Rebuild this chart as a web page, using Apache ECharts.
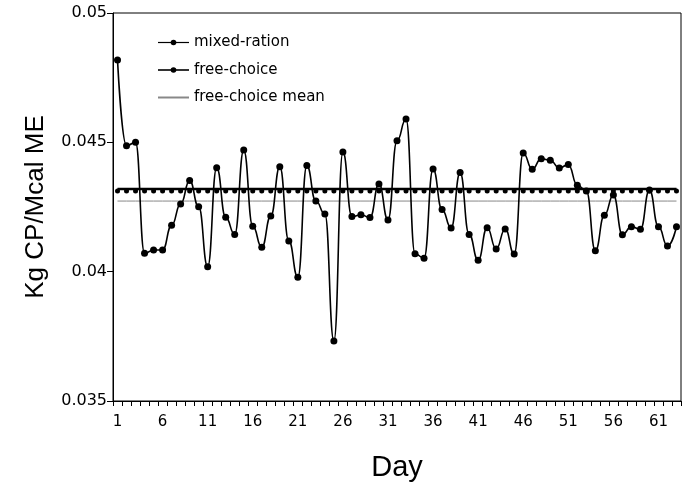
<!DOCTYPE html>
<html>
<head>
<meta charset="utf-8">
<script src="https://cdn.jsdelivr.net/npm/echarts@6/dist/echarts.min.js"></script>
<style>
html,body{margin:0;padding:0;background:#fff;}
#chart{width:685px;height:489px;}
</style>
</head>
<body>
<div id="chart"></div>
<script>
const days = [];
for (let d = 1; d <= 63; d++) days.push(String(d));

const freeChoice = [
  0.04818, 0.04487, 0.04500, 0.04071, 0.04084, 0.04084, 0.04179, 0.04262, 0.04352, 0.04251,
  0.04019, 0.04402, 0.04210, 0.04144, 0.04470, 0.04176, 0.04094, 0.04215, 0.04406, 0.04119,
  0.03978, 0.04410, 0.04273, 0.04223, 0.03732, 0.04463, 0.04213, 0.04220, 0.04209, 0.04339,
  0.04200, 0.04506, 0.04590, 0.04069, 0.04052, 0.04397, 0.04240, 0.04169, 0.04383, 0.04144,
  0.04044, 0.04170, 0.04088, 0.04165, 0.04068, 0.04459, 0.04396, 0.04437, 0.04431, 0.04401,
  0.04414, 0.04334, 0.04312, 0.04081, 0.04218, 0.04296, 0.04143, 0.04174, 0.04164, 0.04316,
  0.04174, 0.04099, 0.04174
];

const mixedRation = [
  0.0432, 0.0432, 0.0432, 0.0432, 0.0432, 0.0432, 0.0432, 0.0432, 0.0432, 0.0432,
  0.0432, 0.0432, 0.0432, 0.0432, 0.0432, 0.0432, 0.0432, 0.0432, 0.0432, 0.0432,
  0.0432, 0.0432, 0.0432, 0.0432, 0.0432, 0.0432, 0.0432, 0.0432, 0.0432, 0.0432,
  0.0432, 0.0432, 0.0432, 0.0432, 0.0432, 0.0432, 0.0432, 0.0432, 0.0432, 0.0432,
  0.0432, 0.0432, 0.0432, 0.0432, 0.0432, 0.0432, 0.0432, 0.0432, 0.0432, 0.0432,
  0.0432, 0.0432, 0.0432, 0.0432, 0.0432, 0.0432, 0.0432, 0.0432, 0.0432, 0.0432,
  0.0432, 0.0432, 0.0432
];

const freeChoiceMeanValue = 0.04273;
const freeChoiceMean = days.map(() => freeChoiceMeanValue);

const yTicks = [0.035, 0.04, 0.045, 0.05];

const chart = echarts.init(document.getElementById('chart'), null, {renderer: 'canvas'});
chart.setOption({
  animation: false,
  backgroundColor: '#fff',
  textStyle: {fontFamily: 'Liberation Sans, Arial, sans-serif', color: '#000'},
  grid: {left: 113, right: 4, top: 13, bottom: 88, show: true, borderColor: '#000', borderWidth: 1, backgroundColor: 'transparent'},
  legend: {
    orient: 'vertical',
    left: 157,
    top: 35,
    padding: 0,
    itemWidth: 31,
    itemHeight: 7,
    itemGap: 12.5,
    textStyle: {fontFamily: 'DejaVu Sans', fontSize: 15, color: '#000'},
    data: [
      {name: 'mixed-ration', lineStyle: {width: 1.2}},
      {name: 'free-choice', lineStyle: {width: 1.6}},
      {name: 'free-choice mean', itemStyle: {opacity: 0}}
    ]
  },
  xAxis: {
    type: 'category',
    data: days,
    boundaryGap: true,
    name: 'Day',
    nameLocation: 'middle',
    nameGap: 52,
    nameTextStyle: {fontSize: 29, color: '#000', fontFamily: 'Liberation Sans'},
    axisLine: {lineStyle: {color: '#000', width: 1}},
    axisTick: {show: true, interval: 0, length: 5, inside: false, lineStyle: {color: '#000'}},
    axisLabel: {interval: 4, fontSize: 15, color: '#000', margin: 14, fontFamily: 'DejaVu Sans'},
    splitLine: {show: false}
  },
  yAxis: {
    type: 'value',
    min: 0.035,
    max: 0.05,
    interval: 0.005,
    name: 'Kg CP/Mcal ME',
    nameLocation: 'middle',
    nameGap: 64,
    nameTextStyle: {fontSize: 26, color: '#000', fontFamily: 'Liberation Sans'},
    axisLine: {show: true, lineStyle: {color: '#000', width: 1}},
    axisTick: {show: true, length: 6, lineStyle: {color: '#000'}},
    axisLabel: {fontSize: 16, color: '#000', margin: 6, fontFamily: 'DejaVu Sans',
      formatter: v => { const t = yTicks.find(x => Math.abs(x - v) < 1e-9); return t !== undefined ? String(t) : ''; }},
    splitLine: {show: false}
  },
  series: [
    {
      name: 'free-choice mean',
      type: 'line',
      data: freeChoiceMean,
      symbol: 'none',
      lineStyle: {color: '#888', width: 1},
      itemStyle: {color: '#888'},
      z: 1
    },
    {
      name: 'free-choice',
      type: 'line',
      data: freeChoice,
      smooth: 0.5,
      smoothMonotone: 'x',
      symbol: 'circle',
      symbolSize: 7,
      showSymbol: true,
      showAllSymbol: true,
      lineStyle: {color: '#000', width: 1.6},
      itemStyle: {color: '#000'},
      z: 3
    },
    {
      name: 'mixed-ration',
      type: 'line',
      data: mixedRation,
      symbol: 'circle',
      symbolSize: 5,
      symbolOffset: [0, 2],
      showSymbol: true,
      showAllSymbol: true,
      lineStyle: {color: '#000', width: 2.5},
      itemStyle: {color: '#000'},
      z: 2
    }
  ]
});
</script>
</body>
</html>
